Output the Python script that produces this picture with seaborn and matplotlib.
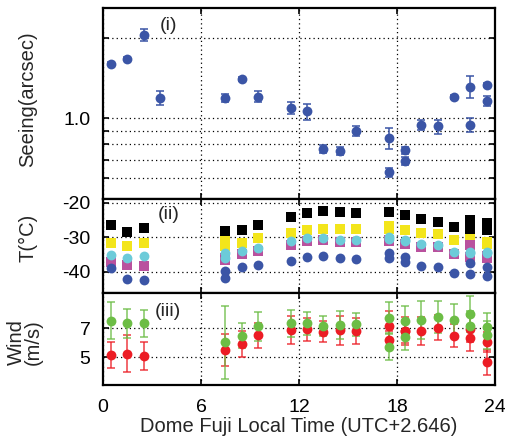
"""Dome Fuji seeing, temperature and wind vs local time."""
import numpy as np
import matplotlib
matplotlib.use("Agg")
import matplotlib.pyplot as plt
import seaborn as sns

# ---- panel (i): seeing
see_t = [0.5, 1.5, 2.5, 3.5, 7.5, 8.5, 9.5, 11.5, 12.5, 13.5, 14.5, 15.5,
         17.5, 17.5, 18.5, 18.5, 19.5, 20.5, 21.5, 22.5, 22.5, 23.5, 23.5]
seeing = [1.595, 1.665, 2.05, 1.19, 1.19, 1.40, 1.204, 1.09, 1.062, 0.768,
          0.757, 0.897, 0.842, 0.630, 0.760, 0.693, 0.944, 0.933, 1.198,
          1.312, 0.944, 1.331, 1.163]
seeing_err = [0.02, 0.02, 0.106, 0.070, 0.044, 0.02, 0.058, 0.056, 0.073,
              0.026, 0.026, 0.038, 0.077, 0.025, 0.024, 0.026, 0.043, 0.056,
              0.02, 0.124, 0.059, 0.02, 0.048]

# ---- panel (ii): temperatures
temp_t = [0.5, 1.5, 2.5, 7.5, 7.5, 8.5, 9.5, 11.5, 12.5, 13.5, 14.5, 15.5,
          17.5, 17.5, 18.5, 18.5, 19.5, 20.5, 21.5, 22.5, 22.5, 23.5, 23.5]
t_black = [-26.3, -28.4, -27.3, -28.1, -28.1, -27.9, -26.3, -24.1, -22.8,
           -22.2, -22.5, -22.8, -22.5, -22.5, -23.4, -23.4, -24.7, -25.6,
           -27.0, -24.9, -27.9, -25.8, -27.9]
t_yellow = [-31.5, -32.5, -31.6, -31.1, -32.5, -31.5, -30.3, -28.7, -27.9,
            -27.5, -27.6, -27.6, -26.8, -27.6, -27.8, -27.8, -28.7, -29.1,
            -30.6, -30.5, -31.0, -31.3, -31.8]
t_magenta = [-37.1, -38.1, -38.4, -36.1, -36.6, -34.9, -33.9, -32.1, -31.0,
             -30.8, -31.3, -31.3, -30.8, -31.0, -31.8, -32.0, -32.7, -32.9,
             -34.8, -32.2, -35.6, -35.5, -36.1]
t_cyan = [-35.2, -36.0, -35.4, -34.6, -35.9, -33.9, -33.0, -31.1, -30.3,
          -30.3, -30.8, -30.8, -29.8, -30.4, -30.6, -31.0, -32.0, -32.3,
          -34.1, -34.2, -34.6, -34.2, -34.6]
t_blue = [-39.0, -42.1, -42.3, -39.6, -41.9, -38.7, -38.1, -36.7, -35.8,
          -35.5, -36.1, -36.3, -34.6, -36.1, -35.6, -37.0, -38.2, -38.6,
          -40.4, -37.5, -40.7, -38.5, -41.1]

# ---- panel (iii): wind
wind_t = [0.5, 1.5, 2.5, 7.5, 8.5, 9.5, 11.5, 12.5, 13.5, 14.5, 15.5,
          17.5, 17.5, 18.5, 18.5, 19.5, 20.5, 21.5, 22.5, 22.5, 23.5, 23.5]
wind_green = [7.53, 7.35, 7.35, 6.02, 6.49, 7.14, 7.35, 7.35, 7.14, 7.23,
              7.28, 7.74, 5.72, 7.51, 6.42, 7.58, 7.79, 7.58, 8.0, 7.19,
              7.09, 6.53]
green_err = [1.28, 1.02, 0.95, 2.53, 0.86, 1.0, 0.95, 0.8, 0.7, 0.95, 0.8,
             1.07, 0.9, 1.05, 0.93, 1.3, 1.13, 1.1, 1.28, 1.0, 1.0, 1.0]
wind_red = [5.14, 5.23, 5.07, 5.47, 5.91, 6.53, 6.88, 6.93, 6.77, 6.86,
            6.81, 7.16, 6.19, 6.81, 6.81, 6.81, 7.05, 6.47, 6.3, 6.93, 6.07,
            4.63]
red_err = [0.88, 1.3, 1.0, 1.1, 0.92, 0.87, 0.95, 0.8, 0.72, 1.0, 0.9, 1.07,
           0.6, 1.0, 0.8, 0.97, 0.87, 0.8, 0.9, 0.9, 0.7, 0.87]

BLUE = "#3b55a6"
GREEN = "#6cbd45"
RED = "#ec1c24"

sns.set_theme(style="ticks")
plt.rcParams["font.family"] = ["Liberation Sans", "DejaVu Sans"]
plt.rcParams["axes.unicode_minus"] = False

fig = plt.figure(figsize=(5.06, 4.40), dpi=100)
L, W = 103 / 506, 392 / 506
def ax_at(top, bot):
    return fig.add_axes([L, 1 - bot / 440, W, (bot - top) / 440])

ax1 = ax_at(8.3, 199)
ax2 = ax_at(199, 293.3)
ax3 = ax_at(293.3, 385)

for ax in (ax1, ax2, ax3):
    ax.set_xlim(0, 24)
    ax.set_xticks([0, 6, 12, 18, 24])
    for s in ax.spines.values():
        s.set_linewidth(1.6)
        s.set_color("black")
    ax.tick_params(direction="in", length=4, width=1.2, top=True, right=True,
                   labelsize=14, colors="black")
    ax.tick_params(axis="y", pad=9)
    ax.tick_params(axis="x", pad=10)
    ax.grid(True, color="black", linestyle=(0, (1, 2.5)), linewidth=0.9)
    ax.set_facecolor("white")
for ax in (ax1, ax2):
    ax.tick_params(labelbottom=False)

# (i) seeing
ax1.set_yscale("log")
ax1.set_ylim(0.5, 2.57)
ax1.errorbar(see_t, seeing, yerr=seeing_err, fmt="none", ecolor=BLUE,
             elinewidth=1.1, capsize=3, capthick=1.1, zorder=2)
sns.scatterplot(x=see_t, y=seeing, ax=ax1, color=BLUE, s=50, linewidth=0,
                zorder=3, legend=False)
ax1.set_yticks([0.6, 0.7, 0.8, 0.9, 1.0, 2.0])
ax1.set_yticklabels(["", "", "", "", "1.0", ""])
ax1.minorticks_off()
ax1.text(4.0, 2.22, "(i)", ha="center", va="center", fontsize=14)
ax1.set_ylabel("Seeing(arcsec)", fontsize=14.5)
ax1.yaxis.set_label_coords(-0.168, 0.524)

# (ii) temperatures
ax2.set_ylim(-46.2, -18.85)
for vals, col, mk, sz in [(t_black, "black", "s", 55),
                          (t_yellow, "#f3e51b", "s", 55),
                          (t_magenta, "#b9519e", "s", 45),
                          (t_cyan, "#6ccbd9", "o", 50),
                          (t_blue, BLUE, "o", 50)]:
    sns.scatterplot(x=temp_t, y=vals, ax=ax2, color=col, marker=mk, s=sz,
                    linewidth=0, zorder=3, legend=False)
ax2.set_yticks([-20, -30, -40])
ax2.text(4.0, -23.3, "(ii)", ha="center", va="center", fontsize=14)
ax2.set_ylabel("T(°C)", fontsize=14.5)
ax2.yaxis.set_label_coords(-0.168, 0.586)

# (iii) wind
ax3.set_ylim(3.05, 9.44)
ax3.errorbar(wind_t, wind_red, yerr=red_err, fmt="none", ecolor=RED,
             elinewidth=1.1, capsize=3, capthick=1.1, alpha=0.85, zorder=2)
ax3.errorbar(wind_t, wind_green, yerr=green_err, fmt="none", ecolor=GREEN,
             elinewidth=1.1, capsize=3, capthick=1.1, alpha=0.85, zorder=2)
sns.scatterplot(x=wind_t, y=wind_red, ax=ax3, color=RED, s=50, linewidth=0,
                zorder=3, legend=False)
sns.scatterplot(x=wind_t, y=wind_green, ax=ax3, color=GREEN, s=50,
                linewidth=0, zorder=4, legend=False)
ax3.set_yticks([5, 7])
ax3.text(4.0, 8.2, "(iii)", ha="center", va="center", fontsize=14)
ax3.set_ylabel("Wind\n(m/s)", fontsize=14.5, linespacing=0.85)
ax3.yaxis.set_label_coords(-0.153, 0.47)
ax3.set_xlabel("Dome Fuji Local Time (UTC+2.646)", fontsize=14.5, labelpad=1)

fig.savefig("out.png", dpi=100)
